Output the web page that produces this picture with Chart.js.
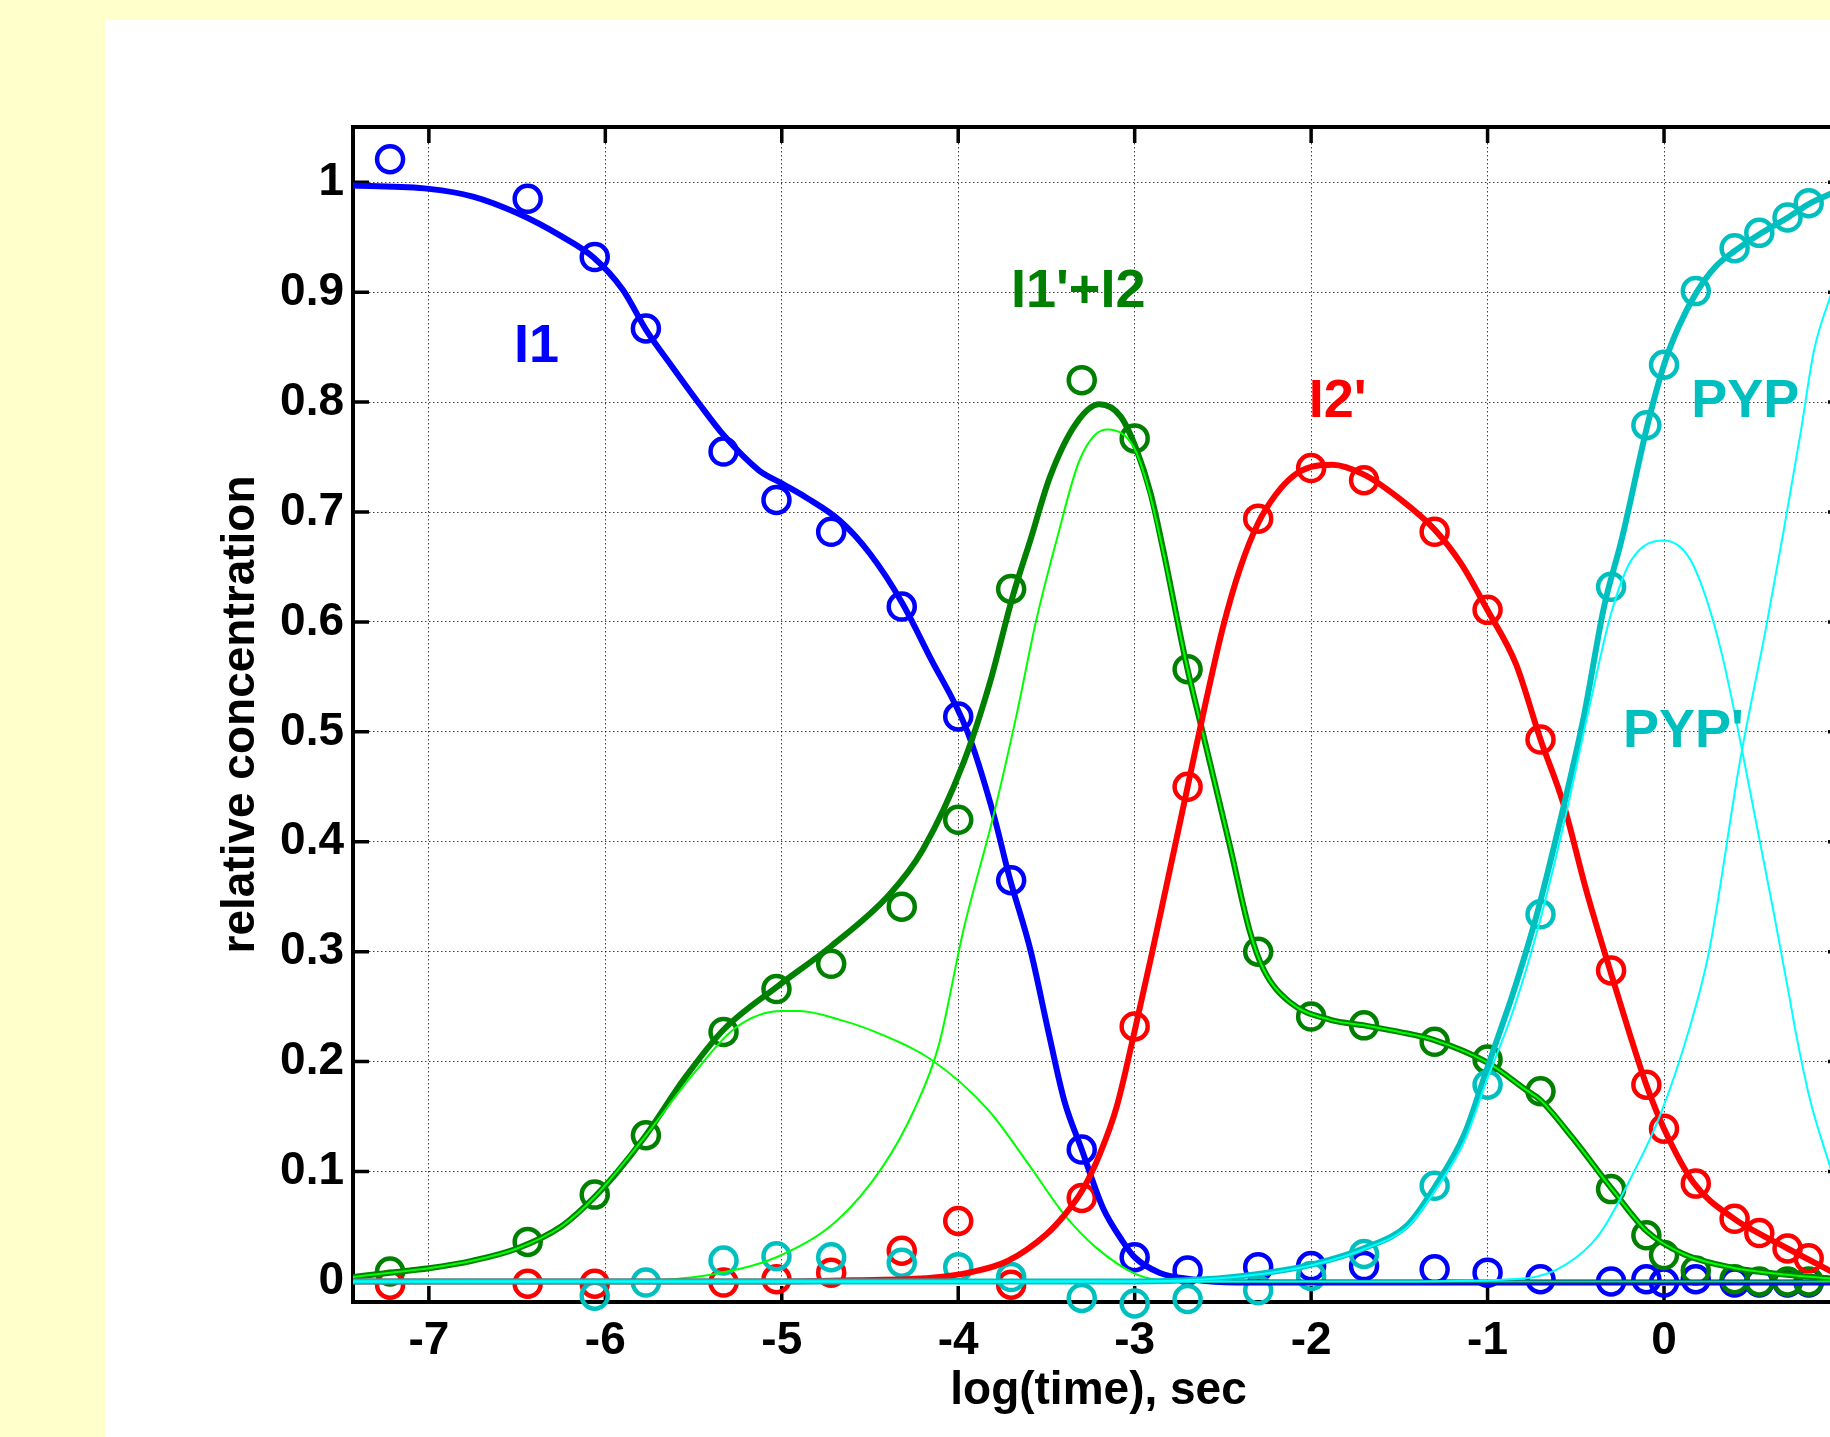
<!DOCTYPE html>
<html>
<head>
<meta charset="utf-8">
<script src="https://cdn.jsdelivr.net/npm/chart.js@4.4.1/dist/chart.umd.min.js"></script>
<style>
  html, body { margin: 0; padding: 0; overflow: hidden; width: 1830px; height: 1437px; background: #FFFFCC; }
  #panel { position: absolute; left: 105px; top: 20px; width: 1800px; height: 1500px; background: #ffffff; }
  #wrap { position: absolute; left: 0; top: 0; width: 1900px; height: 1437px; }
</style>
</head>
<body>
<div id="panel"></div>
<div id="wrap"><canvas id="c" width="1900" height="1437"></canvas></div>
<script>
// ---- measured time points (log10 of seconds) ----
const logTime = [-7.22, -6.44, -6.06, -5.77, -5.33, -5.03, -4.72, -4.32, -4.00, -3.70, -3.30, -3.00, -2.70, -2.30,
                 -2.00, -1.70, -1.30, -1.00, -0.70, -0.30, -0.10, 0.00, 0.18, 0.40, 0.54, 0.70, 0.82];

// ---- measured relative concentrations ----
const I1     = [1.021, 0.985, 0.932, 0.867, 0.755, 0.711, 0.682, 0.614, 0.514, 0.365, 0.120, 0.022, 0.010, 0.013,
                0.014, 0.014, 0.011, 0.008, 0.002, 0.000, 0.002, -0.001, 0.002, -0.001, -0.001, -0.001, -0.001];
const I1pI2  = [0.009, 0.036, 0.079, 0.133, 0.227, 0.266, 0.289, 0.341, 0.420, 0.630, 0.820, 0.767, 0.557, 0.300,
                0.241, 0.233, 0.218, 0.202, 0.173, 0.084, 0.042, 0.024, 0.010, 0.002, 0.000, 0.000, 0.000];
const I2p    = [-0.003, -0.002, -0.002, null, -0.001, 0.002, 0.008, 0.028, 0.055, -0.003, 0.076, 0.232, 0.450, 0.694,
                0.740, 0.729, 0.682, 0.611, 0.493, 0.283, 0.179, 0.139, 0.089, 0.057, 0.044, 0.030, 0.021];
const PYPobs = [null, null, -0.013, -0.001, 0.019, 0.023, 0.022, 0.017, 0.013, 0.004, -0.015, -0.020, -0.016, -0.008,
                0.005, 0.025, 0.087, 0.179, 0.334, 0.632, 0.779, 0.834, 0.901, 0.940, 0.954, 0.968, 0.981];

// ---- fitted kinetic curves ----
const fitI1X = [-7.43, -7.0, -6.75, -6.5, -6.25, -6.07, -5.9, -5.77, -5.62, -5.47, -5.33, -5.13, -5.0, -4.86, -4.67,
                -4.5, -4.32, -4.16, -3.95, -3.80, -3.71, -3.59, -3.49, -3.40, -3.30, -3.18, -3.07, -3.0, -2.86, -2.68,
                -2.42, -2.0, -1.0, 0.0, 0.95];
const fitI1Y = [0.997, 0.994, 0.987, 0.972, 0.951, 0.932, 0.902, 0.866, 0.832, 0.799, 0.770, 0.738, 0.726, 0.713, 0.692,
                0.662, 0.618, 0.568, 0.501, 0.425, 0.368, 0.301, 0.228, 0.165, 0.120, 0.067, 0.037, 0.022, 0.008, 0.002,
                -0.001, -0.001, -0.001, -0.001, -0.001];

const fitSumX = [-7.43, -7.22, -7.0, -6.75, -6.5, -6.25, -6.06, -5.94, -5.77, -5.55, -5.33, -5.02, -4.72, -4.39, -4.20,
                 -3.97, -3.82, -3.69, -3.59, -3.48, -3.33, -3.20, -3.08, -2.99, -2.91, -2.84, -2.71, -2.62, -2.46, -2.35,
                 -2.27, -2.12, -1.89, -1.70, -1.50, -1.31, -1.0, -0.78, -0.70, -0.52, -0.29, -0.10, 0.11, 0.39, 0.68, 0.95];
const fitSumY = [0.004, 0.008, 0.012, 0.019, 0.030, 0.050, 0.077, 0.098, 0.133, 0.185, 0.229, 0.269, 0.305, 0.352, 0.393,
                 0.472, 0.545, 0.624, 0.675, 0.732, 0.781, 0.798, 0.787, 0.757, 0.717, 0.667, 0.564, 0.503, 0.396, 0.320,
                 0.284, 0.254, 0.238, 0.233, 0.227, 0.220, 0.199, 0.174, 0.165, 0.131, 0.083, 0.046, 0.025, 0.0125, 0.0064, 0.0027];

const fitI1primeX = [-7.43, -7.22, -7.0, -6.75, -6.5, -6.25, -6.06, -5.77, -5.5, -5.26, -5.0, -4.9, -4.67, -4.47, -4.15,
                     -3.83, -3.59, -3.40, -3.22, -2.99, -2.81, -2.5, -2.0, -1.0, 0.0, 0.95];
const fitI1primeY = [0.004, 0.008, 0.012, 0.019, 0.030, 0.050, 0.077, 0.133, 0.189, 0.231, 0.246, 0.246, 0.238, 0.227,
                     0.2015, 0.156, 0.104, 0.061, 0.031, 0.0065, 0.0005, 0, 0, 0, 0, 0];

const fitI2X = [-7.43, -6.0, -5.70, -5.34, -5.03, -4.69, -4.43, -4.25, -4.11, -3.97, -3.80, -3.67, -3.56, -3.44, -3.31,
                -3.16, -3.06, -2.99, -2.91, -2.84, -2.71, -2.62, -2.46, -2.35, -2.27, -2.12, -1.89, -1.70, -1.50, -1.31,
                -1.0, -0.78, -0.70, -0.52, -0.29, -0.10, 0.11, 0.39, 0.68, 0.95];
const fitI2Y = [0, 0, 0.001, 0.008, 0.022, 0.055, 0.104, 0.156, 0.215, 0.320, 0.424, 0.515, 0.600, 0.676, 0.748,
                0.775, 0.770, 0.754, 0.714, 0.665, 0.564, 0.503, 0.396, 0.320, 0.284, 0.254, 0.238, 0.233, 0.227, 0.220,
                0.199, 0.174, 0.165, 0.131, 0.083, 0.046, 0.025, 0.0125, 0.0064, 0.0027];

const fitI2pX = [-7.43, -5.0, -4.6, -4.15, -3.94, -3.72, -3.50, -3.40, -3.30, -3.20, -3.10, -3.00, -2.90, -2.80, -2.70,
                 -2.60, -2.50, -2.40, -2.30, -2.20, -2.10, -2.00, -1.88, -1.70, -1.49, -1.30, -1.15, -1.0, -0.84, -0.70,
                 -0.57, -0.44, -0.30, -0.20, -0.10, 0.0, 0.17, 0.40, 0.54, 0.70, 0.95];
const fitI2pY = [0.0, 0.0, 0.001, 0.0034, 0.008, 0.0186, 0.043, 0.060, 0.082, 0.115, 0.160, 0.228, 0.300, 0.375, 0.450,
                 0.525, 0.595, 0.650, 0.690, 0.716, 0.733, 0.741, 0.743, 0.734, 0.711, 0.684, 0.653, 0.6106, 0.562, 0.493,
                 0.4345, 0.3555, 0.280, 0.228, 0.1787, 0.139, 0.0893, 0.0567, 0.0436, 0.030, 0.009];

const fitPYPX = [-7.43, -3.0, -2.6, -2.32, -1.99, -1.69, -1.45, -1.30, -1.13, -1.0, -0.92, -0.86, -0.72, -0.57, -0.455,
                 -0.34, -0.24, -0.094, 0.0, 0.083, 0.18, 0.29, 0.405, 0.543, 0.702, 0.818, 0.95];
const fitPYPY = [0.0, 0.0, 0.002, 0.0064, 0.0156, 0.0308, 0.052, 0.0857, 0.1345, 0.195, 0.232, 0.2600, 0.3343, 0.4315, 0.5134,
                 0.6137, 0.675, 0.779, 0.834, 0.8685, 0.8987, 0.9229, 0.938, 0.953, 0.968, 0.980, 0.990];

const fitPYPpX = [-7.43, -3.0, -2.6, -2.32, -1.99, -1.69, -1.45, -1.30, -1.13, -1.0, -0.86, -0.72, -0.57, -0.42, -0.30,
                  -0.186, 0.0, 0.14, 0.236, 0.332, 0.428, 0.524, 0.62, 0.714, 0.745, 0.828, 0.95];
const fitPYPpY = [0, 0, 0.002, 0.006, 0.015, 0.030, 0.050, 0.082, 0.128, 0.185, 0.244, 0.318, 0.415, 0.525, 0.6076,
                  0.656, 0.674, 0.659, 0.623, 0.568, 0.495, 0.416, 0.337, 0.256, 0.228, 0.165, 0.10];

const fitPYPfX = [-7.43, -1.5, -0.78, -0.555, -0.366, -0.176, -0.025, 0.14, 0.255, 0.428, 0.582, 0.678, 0.774, 0.85, 0.95];
const fitPYPfY = [0, 0, 0.003, 0.0155, 0.043, 0.098, 0.150, 0.228, 0.30, 0.471, 0.598, 0.683, 0.772, 0.847, 0.90];

// ---- axis ticks ----
const xTickValues = [-7, -6, -5, -4, -3, -2, -1, 0];
const xTickLabels = ['-7', '-6', '-5', '-4', '-3', '-2', '-1', '0'];
const yTickValues = [0, 0.1, 0.2, 0.3, 0.4, 0.5, 0.6, 0.7, 0.8, 0.9, 1];
const yTickLabels = ['0', '0.1', '0.2', '0.3', '0.4', '0.5', '0.6', '0.7', '0.8', '0.9', '1'];

// ---- colours ----
const BLUE = '#0000FF', DKGREEN = '#008000', LTGREEN = '#00FF00', RED = '#FF0000', CYAN = '#00BFBF', LTCYAN = '#00FFFF';
const FONT = "'Liberation Sans', Arial, Helvetica, sans-serif";

const seriesLabels = [
  { text: 'I1',     x: -6.39, y: 0.85, color: BLUE },
  { text: "I1'+I2", x: -3.32, y: 0.90, color: DKGREEN },
  { text: "I2'",    x: -1.85, y: 0.80, color: RED },
  { text: 'PYP',    x: 0.46,  y: 0.80, color: CYAN },
  { text: "PYP'",   x: 0.11,  y: 0.50, color: CYAN }
];

const toXY = (xs, ys) => xs.map((x, i) => ({ x: x, y: ys[i] }));

function markers(ys, color, order) {
  return {
    type: 'scatter', data: toXY(logTime, ys), showLine: false, order: order, clip: false,
    pointStyle: 'circle', pointRadius: 13, pointHoverRadius: 13, pointBorderWidth: 4.5, pointHoverBorderWidth: 4.5,
    pointBorderColor: color, pointBackgroundColor: 'rgba(0,0,0,0)'
  };
}
function curve(xs, ys, color, width, order) {
  return {
    type: 'line', data: toXY(xs, ys), borderColor: color, borderWidth: width, order: order,
    pointRadius: 0, pointHoverRadius: 0, fill: false, cubicInterpolationMode: 'monotone',
    borderCapStyle: 'round', borderJoinStyle: 'round'
  };
}

// box, inward tick marks
const framePlugin = {
  id: 'frame',
  beforeDatasetsDraw(chart) {
    const { ctx, chartArea: a, scales: { x, y } } = chart;
    ctx.save();
    ctx.strokeStyle = '#000';
    ctx.lineWidth = 3.5;
    ctx.beginPath();
    xTickValues.forEach(v => {
      const px = x.getPixelForValue(v);
      ctx.moveTo(px, a.bottom); ctx.lineTo(px, a.bottom - 16);
      ctx.moveTo(px, a.top); ctx.lineTo(px, a.top + 16);
    });
    yTickValues.forEach(v => {
      const py = y.getPixelForValue(v);
      ctx.moveTo(a.left, py); ctx.lineTo(a.left + 16, py);
      ctx.moveTo(a.right, py); ctx.lineTo(a.right - 16, py);
    });
    ctx.stroke();
    ctx.lineWidth = 4;
    ctx.strokeRect(a.left, a.top, a.right - a.left, a.bottom - a.top);
    ctx.restore();
  }
};

// species names placed on the plot
const labelPlugin = {
  id: 'speciesLabels',
  afterDatasetsDraw(chart) {
    const { ctx, scales: { x, y } } = chart;
    ctx.save();
    ctx.font = 'bold 54px ' + FONT;
    ctx.textAlign = 'center';
    ctx.textBaseline = 'middle';
    seriesLabels.forEach(l => {
      ctx.fillStyle = l.color;
      ctx.fillText(l.text, x.getPixelForValue(l.x), y.getPixelForValue(l.y));
    });
    ctx.restore();
  }
};

const tickFont = { family: FONT, size: 46, weight: 'bold' };

new Chart(document.getElementById('c'), {
  type: 'scatter',
  data: {
    datasets: [
      curve(fitPYPpX, fitPYPpY, LTCYAN, 2, 1),
      curve(fitPYPfX, fitPYPfY, LTCYAN, 2, 1),
      curve(fitPYPX, fitPYPY, CYAN, 6, 2),
      curve(fitI2pX, fitI2pY, RED, 6, 3),
      curve(fitI1primeX, fitI1primeY, LTGREEN, 2, 4),
      curve(fitI2X, fitI2Y, LTGREEN, 2, 4),
      curve(fitSumX, fitSumY, DKGREEN, 6, 5),
      curve(fitI1X, fitI1Y, BLUE, 6, 6),
      markers(PYPobs, CYAN, 7),
      markers(I2p, RED, 8),
      markers(I1pI2, DKGREEN, 9),
      markers(I1, BLUE, 10)
    ]
  },
  options: {
    responsive: false,
    animation: false,
    devicePixelRatio: 1,
    events: [],
    layout: { padding: { left: 0, top: 127, right: 56, bottom: 0 } },
    plugins: { legend: { display: false }, tooltip: { enabled: false } },
    scales: {
      x: {
        type: 'linear', min: -7.43, max: 1.02,
        afterBuildTicks: s => { s.ticks = xTickValues.map(v => ({ value: v })); },
        afterFit: s => { s.height = 135; },
        grid: { color: 'rgba(0,0,0,0.75)', lineWidth: 1, drawTicks: false },
        border: { display: false, dash: [1.5, 2.5] },
        ticks: { padding: 12, color: '#000', font: tickFont, autoSkip: false, maxRotation: 0,
                 callback: (v, i) => xTickLabels[i] },
        title: { display: true, text: 'log(time), sec', color: '#000', font: tickFont,
                 padding: { top: 0, bottom: 18 } }
      },
      y: {
        type: 'linear', min: -0.0187, max: 1.0503,
        afterBuildTicks: s => { s.ticks = yTickValues.map(v => ({ value: v })); },
        afterFit: s => { s.width = 353; },
        grid: { color: 'rgba(0,0,0,0.75)', lineWidth: 1, drawTicks: false },
        border: { display: false, dash: [1.5, 2.5] },
        ticks: { padding: 9, color: '#000', font: tickFont, autoSkip: false,
                 callback: (v, i) => yTickLabels[i] },
        title: { display: true, text: 'relative concentration', color: '#000', font: tickFont,
                 padding: { top: 214, bottom: 0 } }
      }
    }
  },
  plugins: [framePlugin, labelPlugin]
});
</script>
</body>
</html>
